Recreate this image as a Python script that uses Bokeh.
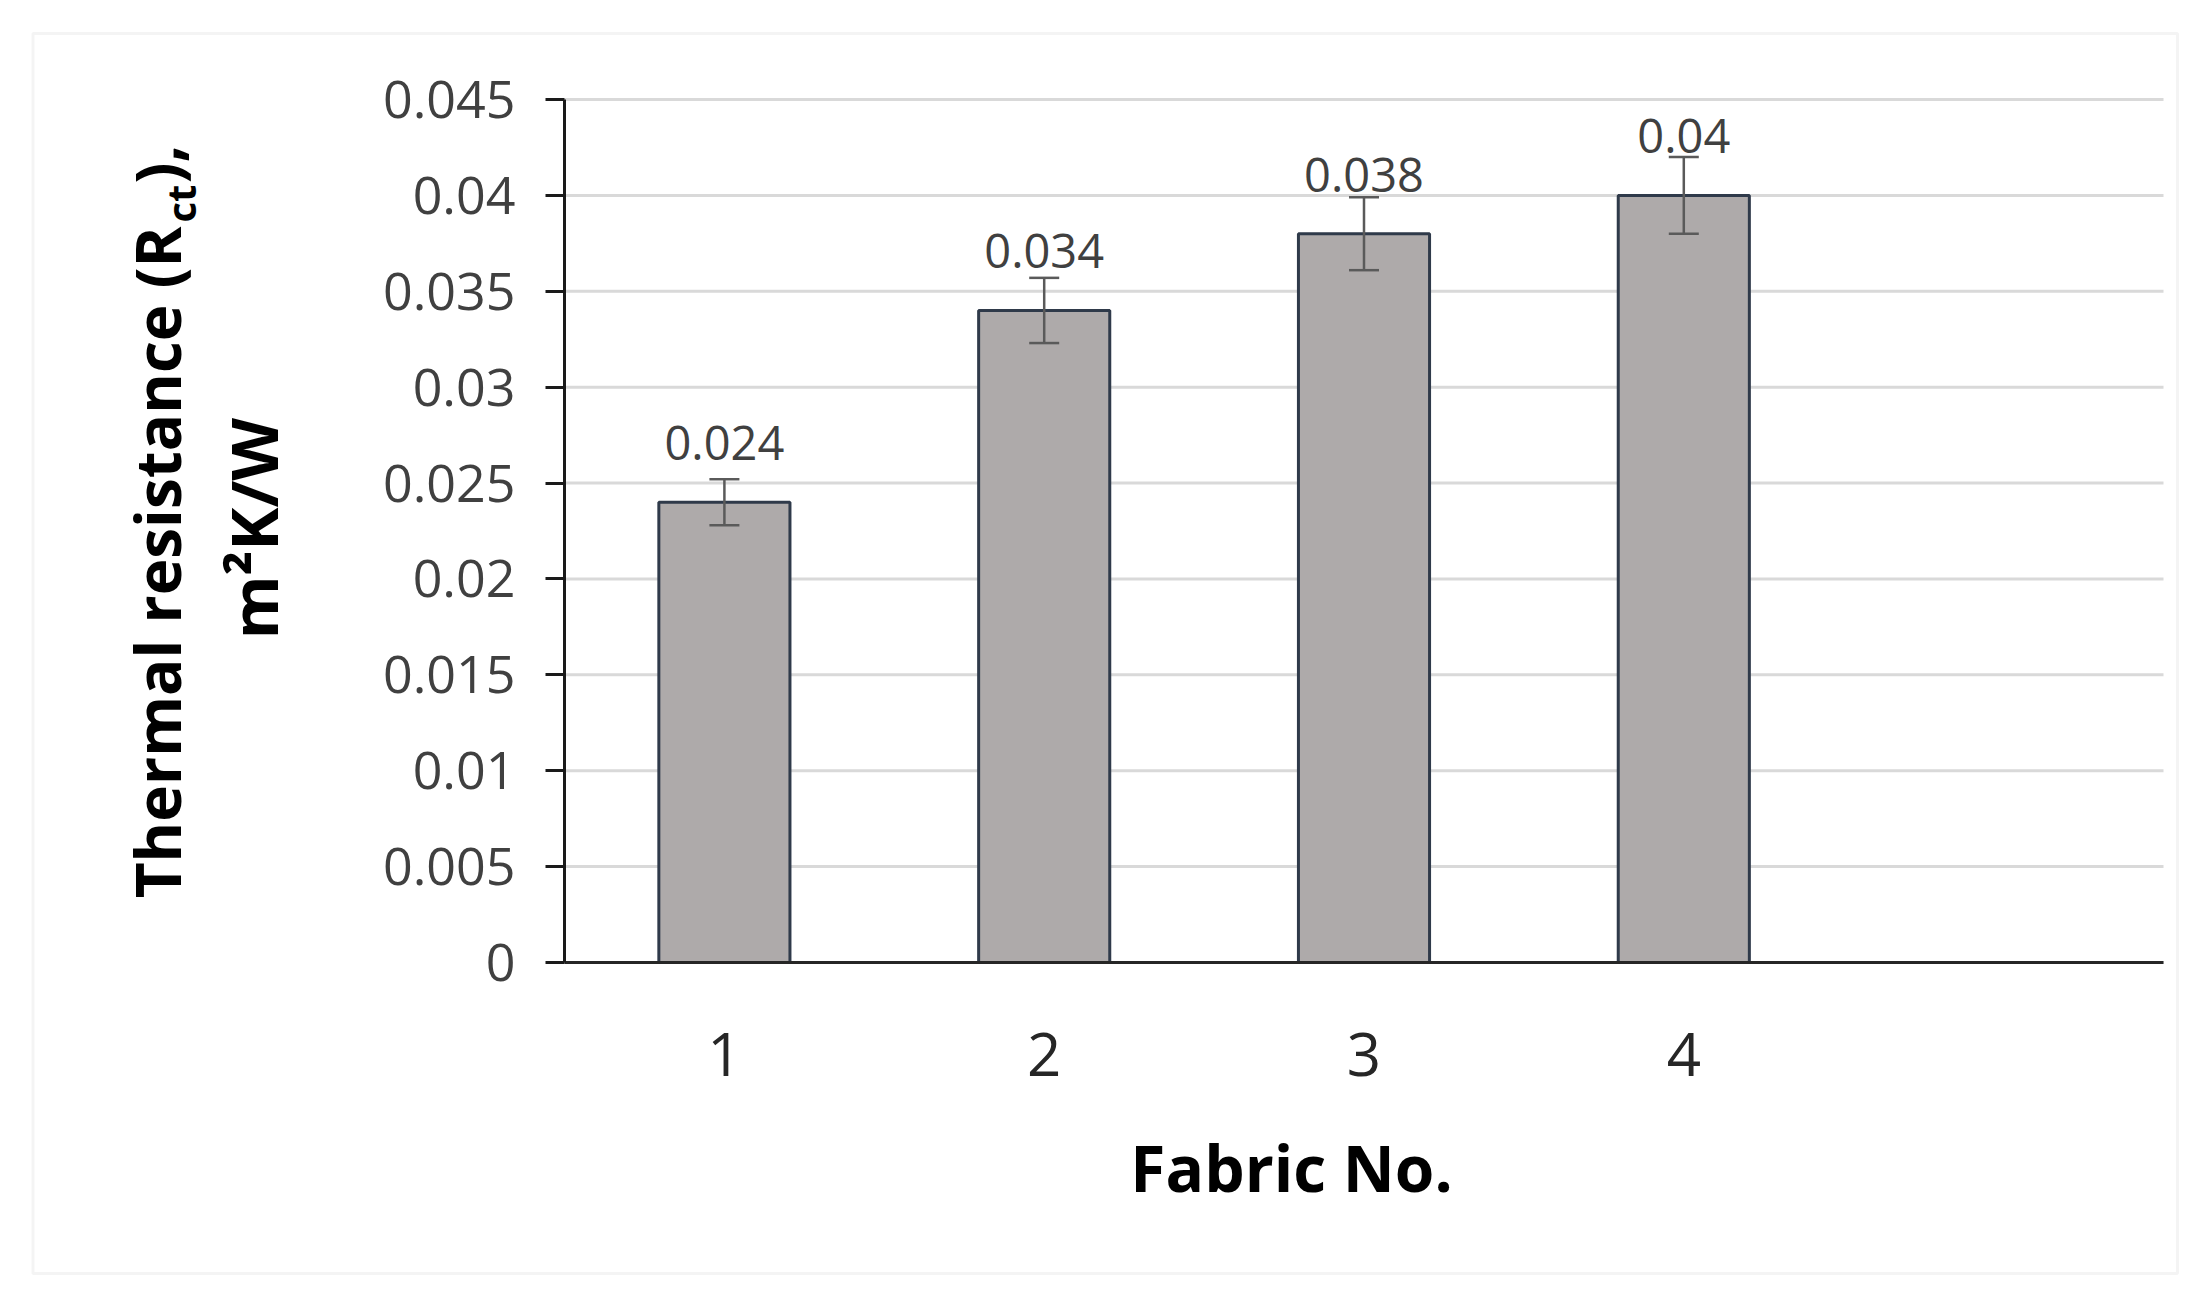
import math
from bokeh.plotting import figure
from bokeh.models import (Range1d, FixedTicker, Whisker, TeeHead, ColumnDataSource,
                          Label, BoxAnnotation)
from bokeh.core.properties import value
from bokeh.embed import file_html
from bokeh.resources import INLINE

# ---- data ----
fabric = [1, 2, 3, 4]
x_tick_labels = ["1", "2", "3", "4"]
rct = [0.024, 0.034, 0.038, 0.040]
rct_err = [0.0012, 0.0017, 0.0019, 0.0020]
value_labels = ["0.024", "0.034", "0.038", "0.04"]
y_ticks = [0, 0.005, 0.01, 0.015, 0.02, 0.025, 0.03, 0.035, 0.04, 0.045]
y_tick_labels = ["0", "0.005", "0.01", "0.015", "0.02", "0.025", "0.03", "0.035", "0.04", "0.045"]
X_MIN, X_MAX = 0.5, 5.5      # category slots (5th slot empty, as in the original)
Y_MIN, Y_MAX = 0.0, 0.045

src = ColumnDataSource(dict(
    x=fabric, top=rct,
    upper=[v + e for v, e in zip(rct, rct_err)],
    lower=[v - e for v, e in zip(rct, rct_err)],
    lab=value_labels,
))
grid_src = ColumnDataSource(dict(
    x0=[X_MIN] * len(y_ticks), x1=[X_MAX] * len(y_ticks), y=y_ticks,
))

FONT = "Open Sans"
W, H = 2195, 1300
# plot-area placement on the canvas (pixels)
PX0, PX1, PY0, PY1 = 564.0, 2163.0, 99.0, 962.0
KX = (X_MAX - X_MIN) / (PX1 - PX0)
KY = (Y_MAX - Y_MIN) / (PY1 - PY0)

def dx(px):
    return X_MIN + (px - PX0) * KX
def dy(py):
    return Y_MIN + (PY1 - py) * KY

p = figure(width=W, height=H, output_backend="svg", toolbar_location=None,
           x_range=Range1d(dx(0), dx(W)), y_range=Range1d(dy(H), dy(0)),
           min_border=0)
p.title.visible = False
p.outline_line_color = None
p.background_fill_color = "white"
p.border_fill_color = "white"

# grid (limited to the plot area)
p.xgrid.grid_line_color = None
p.ygrid.grid_line_color = None
p.segment(x0="x0", x1="x1", y0="y", y1="y", source=grid_src,
          line_color="#d9d9d9", line_width=3)

# y axis
p.yaxis.fixed_location = X_MIN
p.yaxis.bounds = (Y_MIN, Y_MAX)
p.yaxis.ticker = FixedTicker(ticks=y_ticks)
p.yaxis.major_label_overrides = {t: s for t, s in zip(y_ticks, y_tick_labels)}
p.yaxis.axis_line_color = "#1a1a1a"
p.yaxis.axis_line_width = 3
p.yaxis.major_tick_line_color = "#1a1a1a"
p.yaxis.major_tick_line_width = 3
p.yaxis.major_tick_out = 19
p.yaxis.major_tick_in = 0
p.yaxis.minor_tick_line_color = None
p.yaxis.major_label_standoff = 30
p.yaxis.major_label_text_font = FONT
p.yaxis.major_label_text_font_size = "52px"
p.yaxis.major_label_text_color = "#404040"

# x axis
p.xaxis.fixed_location = Y_MIN
p.xaxis.bounds = (X_MIN, X_MAX)
p.xaxis.ticker = FixedTicker(ticks=fabric)
p.xaxis.major_label_overrides = {t: s for t, s in zip(fabric, x_tick_labels)}
p.xaxis.axis_line_color = "#262626"
p.xaxis.axis_line_width = 3
p.xaxis.major_tick_line_color = None
p.xaxis.minor_tick_line_color = None
p.xaxis.major_tick_out = 0
p.xaxis.major_tick_in = 0
p.xaxis.major_label_standoff = 70
p.xaxis.major_label_text_font = FONT
p.xaxis.major_label_text_font_size = "60px"
p.xaxis.major_label_text_color = "#262626"

# bars
p.vbar(x="x", top="top", bottom=0, width=0.41, source=src,
       fill_color="#aeaaaa", line_color="#2f3a4a", line_width=3)

# error bars
wh = Whisker(base="x", upper="upper", lower="lower", source=src, level="overlay",
             line_color="#5a5a5a", line_width=2.5,
             upper_head=TeeHead(size=30, line_color="#5a5a5a", line_width=2.5),
             lower_head=TeeHead(size=30, line_color="#5a5a5a", line_width=2.5))
p.add_layout(wh)

# value labels
p.text(x="x", y="top", text="lab", source=src, y_offset=-59,
       text_align="center", text_baseline="middle",
       text_font=value(FONT), text_font_size="47px", text_color="#404040")

def lab(x, y, text, size, align, angle=0.0):
    return Label(x=dx(x), y=dy(y), angle=angle,
                 text=text, text_align=align, text_baseline="middle",
                 text_font=FONT, text_font_size=size, text_font_style="bold",
                 text_color="black", level="overlay")

# x axis title
p.add_layout(lab(1291, 1167, "Fabric No.", "64px", "center"))

# y axis title (two lines, rotated), with subscript
rot = math.pi / 2
p.add_layout(lab(156, 226, "Thermal resistance (R", "62px", "right", rot))
p.add_layout(lab(180, 222, "ct", "40px", "left", rot))
p.add_layout(lab(156, 183, "),", "62px", "left", rot))
p.add_layout(lab(252, 528, "m²K/W", "65px", "center", rot))

# outer chart border
p.add_layout(BoxAnnotation(left=dx(32.5), right=dx(2177), top=dy(33), bottom=dy(1273),
                           fill_alpha=0, fill_color=None, line_color="#d9d9d9",
                           line_width=3, level="overlay"))

open("out.html", "w").write(file_html(p, INLINE))
